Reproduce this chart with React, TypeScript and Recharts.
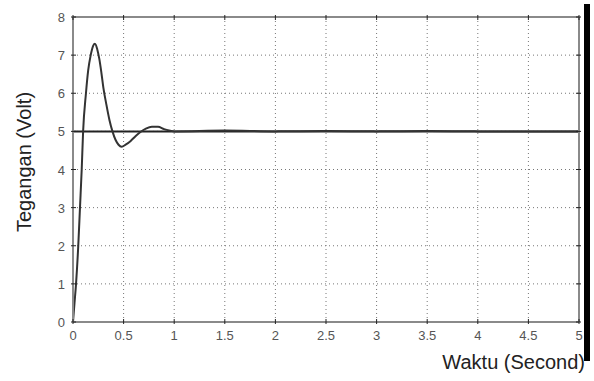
import { CartesianGrid, Line, LineChart, ReferenceLine, XAxis, YAxis } from 'recharts';

// step response
const TIME = [
  0, 0.015, 0.03, 0.052, 0.069, 0.086, 0.1, 0.128, 0.15, 0.175, 0.2, 0.217, 0.24, 0.26, 0.28, 0.3,
  0.33, 0.36, 0.39, 0.42, 0.45, 0.48, 0.52, 0.57, 0.62, 0.66, 0.72, 0.78, 0.84, 0.9, 0.96, 1.0,
  1.5, 2, 2.5, 3, 3.5, 4, 4.5, 5,
];
const VOLT = [
  0, 0.5, 1.0, 2.0, 3.0, 4.0, 5.0, 6.0, 6.6, 7.0, 7.25, 7.3, 7.15, 6.9, 6.55, 6.15,
  5.7, 5.3, 5.0, 4.78, 4.65, 4.6, 4.65, 4.75, 4.88, 4.97, 5.07, 5.12, 5.12, 5.06, 5.02, 5.0,
  5.02, 5.0, 5.01, 5.0, 5.01, 5.0, 5.0, 5.0,
];
const X_TICKS = [0, 0.5, 1, 1.5, 2, 2.5, 3, 3.5, 4, 4.5, 5];
const Y_TICKS = [0, 1, 2, 3, 4, 5, 6, 7, 8];
const SETPOINT = 5;

const data = TIME.map((t, i) => ({ t, v: VOLT[i] }));

const FONT = "'Liberation Sans', Arial, sans-serif";
const TICK_LEN = 5;
const BOX = { stroke: '#8a8a8a', strokeWidth: 2 };

function BottomTick(props: any) {
  const { x, y, payload } = props;
  return (
    <g>
      <line x1={x} y1={y} x2={x} y2={y - TICK_LEN} stroke="#222" />
      <text x={x} y={y + 16} textAnchor="middle" fontSize={13} fill="#555" fontFamily={FONT}>
        {payload.value}
      </text>
    </g>
  );
}

function LeftTick(props: any) {
  const { x, y, payload } = props;
  return (
    <g>
      <line x1={x} y1={y} x2={x + TICK_LEN} y2={y} stroke="#222" />
      <text x={x - 6} y={y + 5} textAnchor="end" fontSize={13} fill="#555" fontFamily={FONT}>
        {payload.value}
      </text>
    </g>
  );
}

function TopTick(props: any) {
  const { x, y } = props;
  return <line x1={x} y1={y} x2={x} y2={y + TICK_LEN} stroke="#222" />;
}

function RightTick(props: any) {
  const { x, y } = props;
  return <line x1={x} y1={y} x2={x - TICK_LEN} y2={y} stroke="#222" />;
}

export default function App() {
  return (
    <div style={{ position: 'absolute', left: 0, top: 0, width: 594, height: 381, background: '#fff' }}>
      <LineChart width={594} height={381} data={data} margin={{ top: 16, right: 14, bottom: 39, left: 43 }}>
        <CartesianGrid stroke="#777" strokeDasharray="1 3" />
        <XAxis
          dataKey="t"
          type="number"
          domain={[0, 5]}
          ticks={X_TICKS}
          height={20}
          tickSize={0}
          tickLine={false}
          axisLine={BOX}
          tick={BottomTick}
          interval={0}
        />
        <XAxis
          xAxisId="top"
          dataKey="t"
          orientation="top"
          type="number"
          domain={[0, 5]}
          ticks={X_TICKS}
          height={1}
          tickSize={0}
          tickLine={false}
          axisLine={BOX}
          tick={TopTick}
          interval={0}
        />
        <YAxis
          type="number"
          domain={[0, 8]}
          ticks={Y_TICKS}
          width={30}
          tickSize={0}
          tickLine={false}
          axisLine={BOX}
          tick={LeftTick}
          interval={0}
        />
        <YAxis
          yAxisId="right"
          orientation="right"
          type="number"
          domain={[0, 8]}
          ticks={Y_TICKS}
          width={1}
          tickSize={0}
          tickLine={false}
          axisLine={BOX}
          tick={RightTick}
          interval={0}
        />
        <ReferenceLine y={SETPOINT} stroke="#222" strokeWidth={2} />
        {/* invisible copy so the top/right frame axes get drawn */}
        <Line
          xAxisId="top"
          yAxisId="right"
          dataKey="v"
          stroke="none"
          dot={false}
          activeDot={false}
          legendType="none"
          isAnimationActive={false}
        />
        <Line
          type="monotone"
          dataKey="v"
          stroke="#333"
          strokeWidth={2}
          dot={false}
          isAnimationActive={false}
        />
      </LineChart>
      <div
        style={{
          position: 'absolute',
          left: 24,
          top: 162,
          transform: 'translate(-50%, -50%) rotate(-90deg)',
          whiteSpace: 'nowrap',
          fontFamily: FONT,
          fontSize: 20,
          color: '#222',
        }}
      >
        Tegangan (Volt)
      </div>
      <div
        style={{
          position: 'absolute',
          right: 9,
          top: 350,
          whiteSpace: 'nowrap',
          fontFamily: FONT,
          fontSize: 20,
          lineHeight: '24px',
          color: '#222',
        }}
      >
        Waktu (Second)
      </div>
      <div style={{ position: 'absolute', left: 584, top: 4, width: 6, height: 357, background: '#000' }} />
    </div>
  );
}
